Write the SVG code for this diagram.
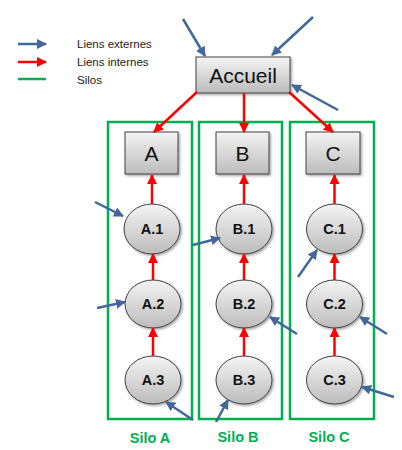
<svg xmlns="http://www.w3.org/2000/svg" width="402" height="450" viewBox="0 0 402 450">
<defs>
<linearGradient id="g" x1="0" y1="0" x2="0" y2="1">
<stop offset="0" stop-color="#f4f4f4"/>
<stop offset="1" stop-color="#bcbcbc"/>
</linearGradient>
<marker id="mb" viewBox="0 0 10 10" refX="9" refY="5" markerWidth="4" markerHeight="4" orient="auto" markerUnits="strokeWidth"><path d="M0,0 L10,5 L0,10 z" fill="#41689b"/></marker>
<marker id="mr" viewBox="0 0 10 10" refX="9" refY="5" markerWidth="4" markerHeight="4" orient="auto" markerUnits="strokeWidth"><path d="M0,0 L10,5 L0,10 z" fill="#ff0000"/></marker>
<filter id="sh" x="-20%" y="-20%" width="150%" height="150%"><feDropShadow dx="1.5" dy="1.5" stdDeviation="1" flood-color="#000" flood-opacity="0.35"/></filter>
</defs>
<style>
.box{fill:url(#g);stroke:#404040;stroke-width:1;filter:url(#sh)}
.el{fill:url(#g);stroke:#404040;stroke-width:1;filter:url(#sh)}
.silo{fill:none;stroke:#00b050;stroke-width:2.5}
.ext{stroke:#41689b;stroke-width:2.5;fill:none;marker-end:url(#mb)}
.int{stroke:#ff0000;stroke-width:2.5;fill:none;marker-end:url(#mr)}
.big{font-family:"Liberation Sans",Arial,sans-serif;font-size:21px;fill:#111;text-anchor:middle}
.small{font-family:"Liberation Sans",Arial,sans-serif;font-size:14.5px;font-weight:bold;fill:#111;text-anchor:middle}
.leg{font-family:"Liberation Sans",Arial,sans-serif;font-size:11.5px;fill:#222}
.slab{font-family:"Liberation Sans",Arial,sans-serif;font-size:14.5px;font-weight:bold;fill:#00b050;text-anchor:middle}
</style>
<g id="legend">
<line x1="18" y1="44" x2="46" y2="44" class="ext"/>
<line x1="18" y1="62" x2="46" y2="62" class="int"/>
<line x1="18" y1="79" x2="46" y2="79" stroke="#00b050" stroke-width="2.5"/>
<text x="77" y="48" class="leg">Liens externes</text>
<text x="77" y="66" class="leg">Liens internes</text>
<text x="77" y="84" class="leg">Silos</text>
</g>
<g id="silos">
<rect x="108" y="122" width="84" height="297" class="silo"/>
<rect x="199" y="122" width="83" height="297" class="silo"/>
<rect x="290" y="122" width="84" height="297" class="silo"/>
<text x="150" y="443" class="slab">Silo A</text>
<text x="238" y="442" class="slab">Silo B</text>
<text x="329" y="442" class="slab">Silo C</text>
</g>
<g id="accueil"><rect x="196" y="57" width="94" height="36" class="box"/><text x="243" y="83" class="big">Accueil</text></g>
<g id="A"><rect x="125" y="132" width="53" height="42" class="box"/><text x="151.5" y="161" class="big">A</text></g>
<g id="B"><rect x="216" y="132" width="53" height="42" class="box"/><text x="242.5" y="161" class="big">B</text></g>
<g id="C"><rect x="306" y="132" width="54" height="42" class="box"/><text x="333" y="161" class="big">C</text></g>
<g id="A1"><ellipse cx="152" cy="229" rx="28" ry="25" class="el"/><text x="152" y="234" class="small">A.1</text></g>
<g id="A2"><ellipse cx="153" cy="304" rx="28" ry="24" class="el"/><text x="153" y="309" class="small">A.2</text></g>
<g id="A3"><ellipse cx="153" cy="380" rx="28" ry="24" class="el"/><text x="153" y="385" class="small">A.3</text></g>
<g id="B1"><ellipse cx="244" cy="229" rx="28" ry="25" class="el"/><text x="244" y="234" class="small">B.1</text></g>
<g id="B2"><ellipse cx="244" cy="304" rx="28" ry="24" class="el"/><text x="244" y="309" class="small">B.2</text></g>
<g id="B3"><ellipse cx="244" cy="380" rx="28" ry="24" class="el"/><text x="244" y="385" class="small">B.3</text></g>
<g id="C1"><ellipse cx="334.5" cy="229" rx="28" ry="25" class="el"/><text x="334.5" y="234" class="small">C.1</text></g>
<g id="C2"><ellipse cx="334.5" cy="304" rx="28" ry="24" class="el"/><text x="334.5" y="309" class="small">C.2</text></g>
<g id="C3"><ellipse cx="334.5" cy="380" rx="28" ry="24" class="el"/><text x="334.5" y="385" class="small">C.3</text></g>
<g id="connectors">
<line x1="197" y1="92" x2="154" y2="132" class="int"/>
<line x1="244" y1="93" x2="244" y2="132" class="int"/>
<line x1="289" y1="92" x2="333" y2="132" class="int"/>
<line x1="152" y1="204" x2="152" y2="175" class="int"/>
<line x1="153" y1="280" x2="153" y2="254" class="int"/>
<line x1="153" y1="356" x2="153" y2="328" class="int"/>
<line x1="244" y1="204" x2="244" y2="175" class="int"/>
<line x1="244" y1="280" x2="244" y2="254" class="int"/>
<line x1="244" y1="356" x2="244" y2="328" class="int"/>
<line x1="334.5" y1="204" x2="334.5" y2="175" class="int"/>
<line x1="334.5" y1="280" x2="334.5" y2="254" class="int"/>
<line x1="334.5" y1="356" x2="334.5" y2="328" class="int"/>
<line x1="183" y1="19" x2="205" y2="56" class="ext"/>
<line x1="313" y1="17" x2="272" y2="55" class="ext"/>
<line x1="338" y1="110" x2="292" y2="85" class="ext"/>
<line x1="95" y1="202" x2="123" y2="216" class="ext"/>
<line x1="193" y1="245" x2="220" y2="238" class="ext"/>
<line x1="298" y1="277" x2="317" y2="250" class="ext"/>
<line x1="97" y1="308" x2="125" y2="302" class="ext"/>
<line x1="297" y1="334" x2="270" y2="317" class="ext"/>
<line x1="387" y1="334" x2="360" y2="317" class="ext"/>
<line x1="193" y1="420" x2="166" y2="402" class="ext"/>
<line x1="216" y1="422" x2="228" y2="400" class="ext"/>
<line x1="394" y1="397" x2="362" y2="387" class="ext"/>
</g>
</svg>
